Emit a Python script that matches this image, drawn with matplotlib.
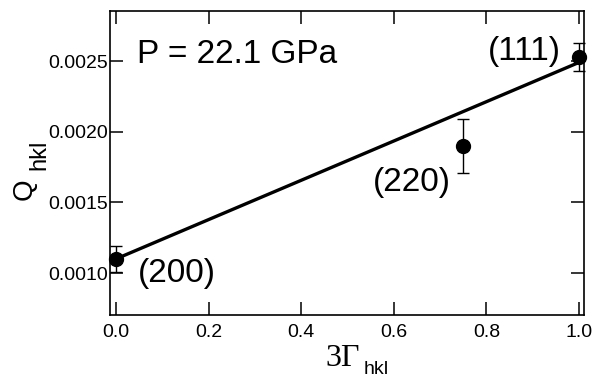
import matplotlib
matplotlib.use('agg')
import matplotlib.pyplot as plt
import numpy as np

# data
gamma = [0.0, 0.75, 1.0]
q_hkl = [0.00110, 0.00190, 0.00253]
q_err = [0.00009, 0.00019, 0.00010]
hkl_labels = ['(200)', '(220)', '(111)']
label_x = [0.047, 0.555, 0.803]
label_y = [0.00100, 0.001644, 0.00257]
fit_x = [0.0, 1.0]
fit_y = [0.00110, 0.00249]

plt.rcParams['font.family'] = 'Liberation Sans'

W, H = 606, 379
fig = plt.figure(figsize=(W/100, H/100), dpi=100)
ax = fig.add_axes([110/W, 64/H, 474/W, 304/H])

ax.plot(fit_x, fit_y, color='black', lw=2.4, zorder=2)
ax.errorbar(gamma, q_hkl, yerr=q_err, fmt='o', color='black', ms=10,
            elinewidth=1.0, capsize=4, capthick=1.0, zorder=3, clip_on=False)

for lx, ly, lab in zip(label_x, label_y, hkl_labels):
    ax.text(lx, ly, lab, fontsize=24, va='center', ha='left')
ax.text(0.045, 0.002549, 'P = 22.1 GPa', fontsize=24, va='center', ha='left')

ax.set_xlim(-0.013, 1.011)
ax.set_ylim(0.000703, 0.002854)
ax.set_xticks(np.arange(0, 1.01, 0.2))
ax.set_yticks([0.0010, 0.0015, 0.0020, 0.0025])
ax.xaxis.set_major_formatter(plt.FormatStrFormatter('%.1f'))
ax.yaxis.set_major_formatter(plt.FormatStrFormatter('%.4f'))
ax.tick_params(direction='in', length=9.5, width=1.1, labelsize=14,
               top=True, right=True)
ax.tick_params(axis='x', pad=6.5)
ax.tick_params(axis='y', pad=1.5)
for s in ax.spines.values():
    s.set_linewidth(1.2)

# axis labels built from pieces so the subscript size can follow the original
fig.text(325/W, 1 - 366/H, '3\u0393', family='Liberation Serif', fontsize=23,
         ha='left', va='baseline')
fig.text(364/W, 1 - 374/H, 'hkl', fontsize=14, ha='left', va='baseline')
fig.text(32/W, 1 - 200/H, 'Q', fontsize=20, rotation=90,
         rotation_mode='anchor', ha='left', va='baseline')
fig.text(45/W, 1 - 170/H, 'hkl', fontsize=17, rotation=90,
         rotation_mode='anchor', ha='left', va='baseline')

plt.savefig('out.png', dpi=100)
